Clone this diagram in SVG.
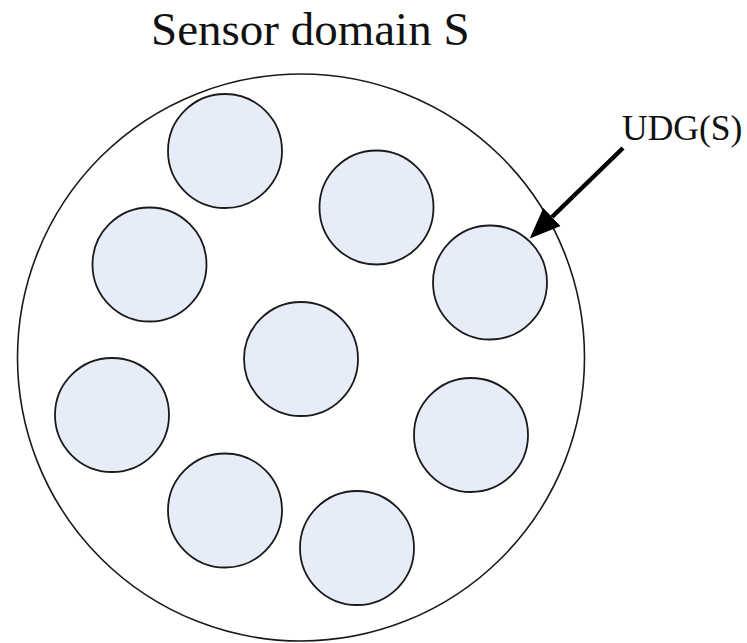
<svg xmlns="http://www.w3.org/2000/svg" width="747" height="643" viewBox="0 0 747 643">
  <style>
    .domain { fill: none; stroke: #1a1a1a; stroke-width: 1.6; }
    .node { fill: #e7edf8; stroke: #1a1a1a; stroke-width: 1.8; }
    .label { font-family: "Liberation Serif", "Times New Roman", serif; fill: #111; }
    .pointer { stroke: #000; stroke-width: 4.5; fill: none; }
  </style>
  <defs>
    <marker id="head" markerUnits="userSpaceOnUse" markerWidth="31" markerHeight="26" viewBox="0 -13 31 26" refX="0" refY="0" orient="auto">
      <path d="M0,-12.5 L31,0 L0,12.5 z" fill="#000"/>
    </marker>
  </defs>
  <rect width="747" height="643" fill="#ffffff"/>

  <text class="label" x="151" y="45" font-size="47">Sensor domain S</text>

  <!-- sensor domain boundary -->
  <g id="domain">
    <circle class="domain" cx="301" cy="357.5" r="283.5"/>
  </g>

  <!-- unit disks -->
  <g id="disk1"><circle class="node" cx="225" cy="151" r="57"/></g>
  <g id="disk2"><circle class="node" cx="376.5" cy="207.5" r="57"/></g>
  <g id="disk3"><circle class="node" cx="149.5" cy="264.5" r="57"/></g>
  <g id="disk4"><circle class="node" cx="490" cy="282.5" r="57"/></g>
  <g id="disk5"><circle class="node" cx="301" cy="359" r="57"/></g>
  <g id="disk6"><circle class="node" cx="112" cy="415" r="57"/></g>
  <g id="disk7"><circle class="node" cx="471" cy="435" r="57"/></g>
  <g id="disk8"><circle class="node" cx="225" cy="510.5" r="57"/></g>
  <g id="disk9"><circle class="node" cx="357" cy="548" r="57"/></g>

  <g id="udg-label">
    <text class="label" x="622" y="140" font-size="35.5">UDG(S)</text>
  </g>

  <g id="connectors">
    <line class="pointer" x1="623" y1="148" x2="552" y2="217" marker-end="url(#head)"/>
  </g>
</svg>
